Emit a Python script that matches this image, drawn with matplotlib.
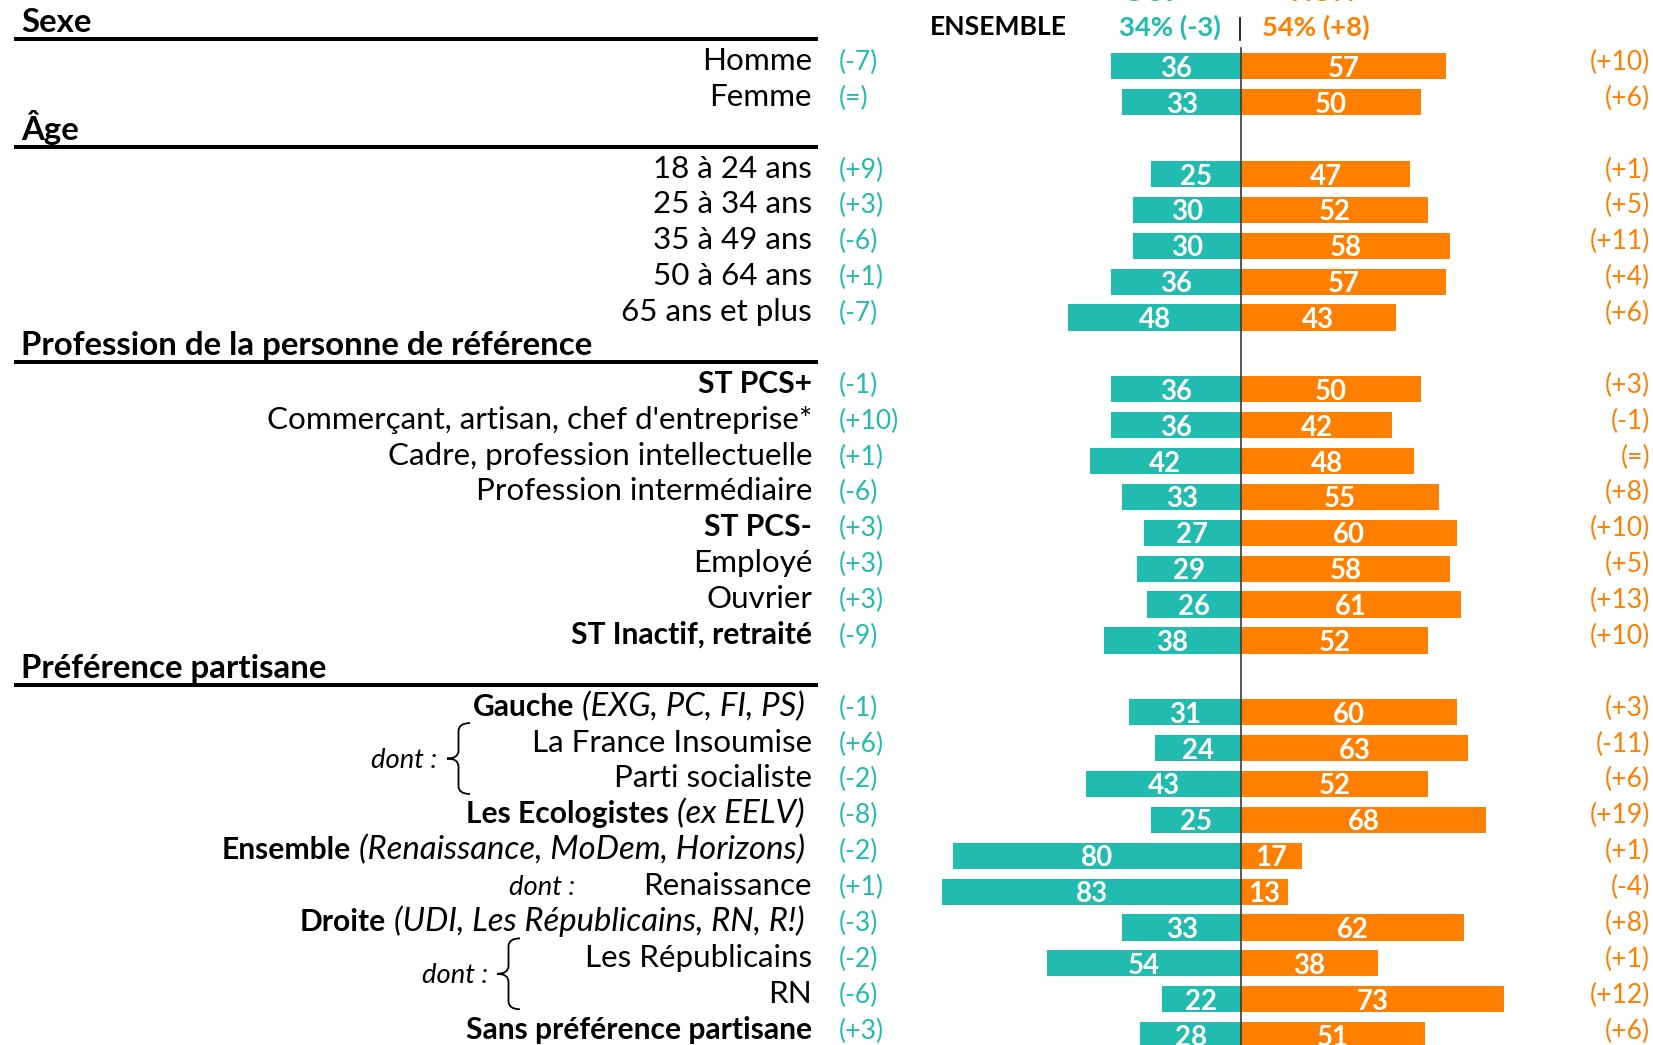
import matplotlib
matplotlib.use("Agg")
import matplotlib.pyplot as plt
from matplotlib.path import Path
from matplotlib.patches import PathPatch

# ---------------- data ----------------
section_titles = ["Sexe", "Âge", "Profession de la personne de référence", "Préférence partisane"]
section_sizes = [2, 5, 8, 10]

row_labels = [
    "Homme", "Femme",
    "18 à 24 ans", "25 à 34 ans", "35 à 49 ans", "50 à 64 ans", "65 ans et plus",
    "ST PCS+", "Commerçant, artisan, chef d'entreprise*", "Cadre, profession intellectuelle",
    "Profession intermédiaire", "ST PCS-", "Employé", "Ouvrier", "ST Inactif, retraité",
    "Gauche", "La France Insoumise", "Parti socialiste", "Les Ecologistes", "Ensemble",
    "Renaissance", "Droite", "Les Républicains", "RN", "Sans préférence partisane",
]
row_notes = [
    "", "",
    "", "", "", "", "",
    "", "", "", "", "", "", "", "",
    "(EXG, PC, FI, PS)", "", "", "(ex EELV)", "(Renaissance, MoDem, Horizons)",
    "", "(UDI, Les Républicains, RN, R!)", "", "", "",
]
bold_rows = ["ST PCS+", "ST PCS-", "ST Inactif, retraité", "Gauche", "Les Ecologistes",
             "Ensemble", "Droite", "Sans préférence partisane"]

oui = [36, 33, 25, 30, 30, 36, 48, 36, 36, 42, 33, 27, 29, 26, 38,
       31, 24, 43, 25, 80, 83, 33, 54, 22, 28]
non = [57, 50, 47, 52, 58, 57, 43, 50, 42, 48, 55, 60, 58, 61, 52,
       60, 63, 52, 68, 17, 13, 62, 38, 73, 51]
oui_delta = ["-7", "=", "+9", "+3", "-6", "+1", "-7", "-1", "+10", "+1", "-6", "+3", "+3", "+3", "-9",
             "-1", "+6", "-2", "-8", "-2", "+1", "-3", "-2", "-6", "+3"]
non_delta = ["+10", "+6", "+1", "+5", "+11", "+4", "+6", "+3", "-1", "=", "+8", "+10", "+5", "+13", "+10",
             "+3", "-11", "+6", "+19", "+1", "-4", "+8", "+1", "+12", "+6"]

series_names = ["OUI", "NON"]
total_label = "ENSEMBLE"
total_oui = "34% (-3)"
total_non = "54% (+8)"

dont_groups = [("La France Insoumise", "Parti socialiste"), ("Les Républicains", "RN")]
dont_single = ["Renaissance"]

# ---------------- style ----------------
TEAL = "#21BBAF"
ORANGE = "#FF7F00"
FONT = "Lato"
W, H = 1653, 1045

fig = plt.figure(figsize=(W / 100, H / 100), dpi=100)
axb = fig.add_axes([0, 0, 1, 1])
axt = fig.add_axes([0, 0, 1, 1])
axt.set_xlim(0, W)
axt.set_ylim(H, 0)
axt.axis("off")
axt.patch.set_alpha(0)

CX, S, Y0, DY = 1241, 3.6, 30.5, 35.88
axb.set_xlim(-CX / S, (W - CX) / S)
axb.set_ylim((H - Y0) / DY, -Y0 / DY)
axb.axis("off")

r = fig.canvas.get_renderer()


def fit(s, target, **kw):
    t = axt.text(0, 0, s, fontsize=20, **kw)
    w = t.get_window_extent(renderer=r).width
    t.remove()
    return 20 * target / w


sz_lab = fit("Commerçant, artisan, chef d'entreprise*", 549, family=FONT)
sz_bold = fit("Sans préférence partisane", 346, family=FONT, weight="bold")
sz_head = fit("Profession de la personne de référence", 572, family=FONT, weight="bold")
sz_ital = fit("(Renaissance, MoDem, Horizons)", 445, family=FONT, style="italic")
sz_delta = fit("(+10)", 60, family=FONT)
sz_ens = fit("ENSEMBLE", 127, family=FONT, weight="bold") * 1.08
sz_tot = fit("34% (-3)", 102, family=FONT, weight="bold")
sz_dont = fit("dont :", 66, family=FONT, style="italic")
sz_num = fit("25", 32, family=FONT, weight="bold")

# slots
header_slots, row_slots = [], []
k = 0
for n in section_sizes:
    header_slots.append(k)
    k += 1
    for _ in range(n):
        row_slots.append(k)
        k += 1


def ypx(slot):
    return Y0 + DY * slot


# bars
axb.barh(row_slots, [-v for v in oui], height=0.73, color=TEAL, zorder=2)
axb.barh(row_slots, non, height=0.73, color=ORANGE, zorder=2)
for s, vo, vn in zip(row_slots, oui, non):
    axb.text(-vo / 2, s, str(vo), ha="center", va="center_baseline", color="white",
             fontsize=sz_num, fontweight="bold", family=FONT, zorder=4)
    axb.text(vn / 2, s, str(vn), ha="center", va="center_baseline", color="white",
             fontsize=sz_num, fontweight="bold", family=FONT, zorder=4)
axt.plot([CX, CX], [48, H], color="#3a3a3a", lw=1.2, zorder=5)

# section headers
for title, s in zip(section_titles, header_slots):
    y = ypx(s)
    axt.text(21, y + 2, title, ha="left", va="baseline", fontsize=sz_head,
             fontweight="bold", family=FONT, color="black")
    axt.plot([14, 818], [y + 8.5, y + 8.5], color="black", lw=2.9, solid_capstyle="butt")

# row labels and deltas
row_y = {}
for lab, note, s, dO, dN in zip(row_labels, row_notes, row_slots, oui_delta, non_delta):
    y = ypx(s)
    row_y[lab] = y
    yb = y + 3.5
    bold = lab in bold_rows
    if note:
        t2 = axt.text(805, yb, note, ha="right", va="baseline", fontsize=sz_ital,
                      style="italic", family=FONT, color="black")
        w = t2.get_window_extent(renderer=r).width
        axt.text(805 - w - 8, yb, lab, ha="right", va="baseline", fontsize=sz_bold,
                 fontweight="bold", family=FONT, color="black")
    else:
        axt.text(812, yb, lab, ha="right", va="baseline",
                 fontsize=sz_bold if bold else sz_lab,
                 fontweight="bold" if bold else "normal", family=FONT, color="black")
    axt.text(839, yb, f"({dO})", ha="left", va="baseline", fontsize=sz_delta,
             family=FONT, color=TEAL)
    axt.text(1650, yb, f"({dN})", ha="right", va="baseline", fontsize=sz_delta,
             family=FONT, color=ORANGE)


# braces
def brace(xl, xr, yt, yb_):
    xm = (xl + xr) / 2
    ym = (yt + yb_) / 2
    rr = 8
    verts = [(xr, yt), (xm, yt), (xm, yt + rr), (xm, ym - rr), (xm, ym), (xl, ym),
             (xm, ym), (xm, ym + rr), (xm, yb_ - rr), (xm, yb_), (xr, yb_)]
    codes = [Path.MOVETO, Path.CURVE3, Path.CURVE3, Path.LINETO, Path.CURVE3, Path.CURVE3,
             Path.CURVE3, Path.CURVE3, Path.LINETO, Path.CURVE3, Path.CURVE3]
    axt.add_patch(PathPatch(Path(verts, codes), fill=False, lw=1.3, edgecolor="black"))


brace_x = [(447, 470, 437), (497, 520, 488)]
for (a, b), (xl, xr, xd) in zip(dont_groups, brace_x):
    ya, yb2 = row_y[a] - 7, row_y[b] - 7
    brace(xl, xr, ya - 18, yb2 + 17)
    axt.text(xd, (ya + yb2) / 2 + 9, "dont :", ha="right", va="baseline",
             fontsize=sz_dont, style="italic", family=FONT, color="black")
for lab in dont_single:
    axt.text(509, row_y[lab] + 3.5, "dont :", ha="left", va="baseline",
             fontsize=sz_dont, style="italic", family=FONT, color="black")

# top header
axt.text(998, 35, total_label, ha="center", va="baseline", fontsize=sz_ens,
         fontweight="bold", family=FONT, color="black")
axt.text(1221, 36, total_oui, ha="right", va="baseline", fontsize=sz_tot,
         fontweight="bold", family=FONT, color=TEAL)
axt.text(1262, 36, total_non, ha="left", va="baseline", fontsize=sz_tot,
         fontweight="bold", family=FONT, color=ORANGE)
axt.plot([1240, 1240], [18, 40], color="black", lw=1.2)
axt.text(1148, 1, series_names[0], ha="center", va="baseline", fontsize=sz_tot,
         fontweight="bold", family=FONT, color=TEAL)
axt.text(1323, 1, series_names[1], ha="center", va="baseline", fontsize=sz_tot,
         fontweight="bold", family=FONT, color=ORANGE)

fig.savefig("out.png", dpi=100)
